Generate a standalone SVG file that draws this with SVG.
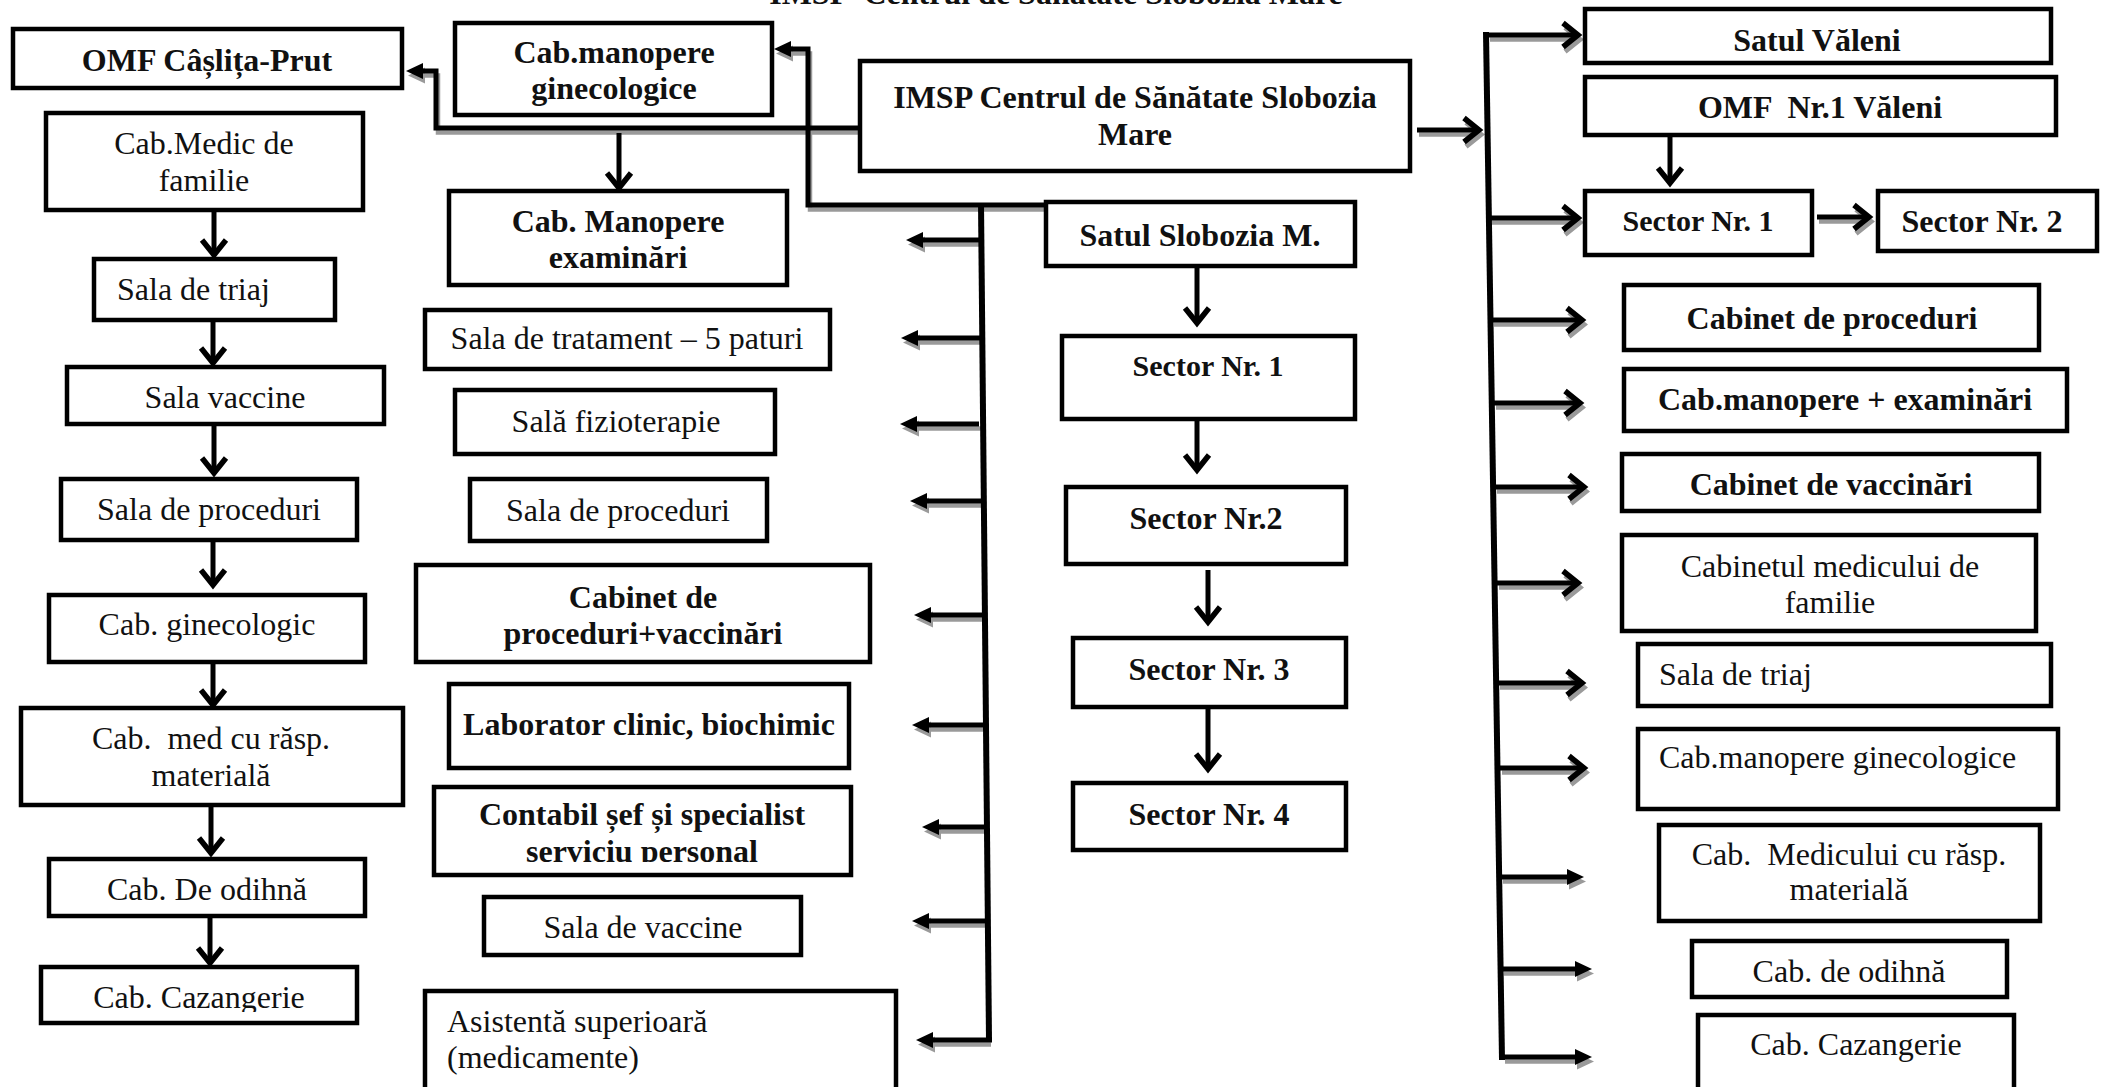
<svg xmlns="http://www.w3.org/2000/svg" width="2107" height="1087" viewBox="0 0 2107 1087">
<style>
.box{fill:#fff;stroke:#000;stroke-width:4.5}
.t{font-family:"Liberation Serif","Times New Roman",serif;font-size:32px;fill:#111;white-space:pre}
.b{font-weight:bold}
.c{text-anchor:middle}
.s28{font-size:30px}
.ln{stroke:#000;stroke-width:5;fill:none}
.sp{stroke:#000;stroke-width:6;fill:none}
.sh{stroke:#9a9a9a;stroke-width:4.5;fill:none}
.fl{marker-end:url(#fh)}
.ch{marker-end:url(#chev)}
.shf{marker-end:url(#fhs)}
.shc{marker-end:url(#chevs)}
</style>
<defs>
<marker id="fh" markerUnits="userSpaceOnUse" markerWidth="20" markerHeight="18" refX="0" refY="8" orient="auto" overflow="visible"><path d="M0,0 L17,8 L0,16 z" fill="#000"/></marker>
<marker id="fhs" markerUnits="userSpaceOnUse" markerWidth="20" markerHeight="18" refX="0" refY="8" orient="auto" overflow="visible"><path d="M0,0 L17,8 L0,16 z" fill="#9a9a9a"/></marker>
<marker id="chev" markerUnits="userSpaceOnUse" markerWidth="22" markerHeight="26" refX="17" refY="12" orient="auto" overflow="visible"><path d="M2,0 L17,12 L2,24" fill="none" stroke="#000" stroke-width="5.5"/></marker>
<marker id="chevs" markerUnits="userSpaceOnUse" markerWidth="22" markerHeight="26" refX="17" refY="12" orient="auto" overflow="visible"><path d="M2,0 L17,12 L2,24" fill="none" stroke="#9a9a9a" stroke-width="5"/></marker>
<clipPath id="clipCont"><rect x="430" y="780" width="430" height="82"/></clipPath>
<clipPath id="clipCaz1"><rect x="38" y="960" width="325" height="52"/></clipPath>
</defs>
<rect width="2107" height="1087" fill="#fff"/>

<text class="t b c" x="1056" y="4">IMSP  Centrul de Sănătate Slobozia Mare</text>

<g id="connectors">
 <g id="shadows" transform="translate(2,4.5)">
  <path class="sh shf" d="M858,128 H436 V71 H423"/>
  <path class="sh shf" d="M1044,205 H808 V49 H791"/>
  <path class="sh shf" d="M981,240 H923"/>
  <path class="sh shf" d="M981,338 H918"/>
  <path class="sh shf" d="M979,424 H917"/>
  <path class="sh shf" d="M982,501 H927"/>
  <path class="sh shf" d="M983,615 H931"/>
  <path class="sh shf" d="M984,725 H929"/>
  <path class="sh shf" d="M986,827 H939"/>
  <path class="sh shf" d="M987,921 H929"/>
  <path class="sh shf" d="M989,1040 H933"/>
  <path class="sh shc" d="M1488,35 H1578"/>
  <path class="sh shc" d="M1417,130 H1479"/>
  <path class="sh shc" d="M1490,218 H1578"/>
  <path class="sh shc" d="M1492,320 H1582"/>
  <path class="sh shc" d="M1494,403 H1580"/>
  <path class="sh shc" d="M1495,487 H1584"/>
  <path class="sh shc" d="M1497,583 H1578"/>
  <path class="sh shc" d="M1498,683 H1582"/>
  <path class="sh shc" d="M1500,768 H1584"/>
  <path class="sh shf" d="M1501,877 H1567"/>
  <path class="sh shf" d="M1502,969 H1575"/>
  <path class="sh shf" d="M1503,1057 H1575"/>
  <path class="sh shc" d="M1817,217 H1869"/>
 </g>
 <path class="ln fl" d="M858,128 H436 V71 H423"/>
 <path class="ln fl" d="M1044,205 H808 V49 H791"/>
 <path class="ln ch" d="M619,133 V188"/>
 <path class="sp" d="M981,203 L989,1040"/>
 <path class="ln fl" d="M981,240 H923"/>
 <path class="ln fl" d="M981,338 H918"/>
 <path class="ln fl" d="M979,424 H917"/>
 <path class="ln fl" d="M982,501 H927"/>
 <path class="ln fl" d="M983,615 H931"/>
 <path class="ln fl" d="M984,725 H929"/>
 <path class="ln fl" d="M986,827 H939"/>
 <path class="ln fl" d="M987,921 H929"/>
 <path class="ln fl" d="M992,1040 H933"/>
 <path class="sp" d="M1486,32 L1502,1060"/>
 <path class="ln ch" d="M1486,35 H1578"/>
 <path class="ln ch" d="M1417,130 H1479"/>
 <path class="ln ch" d="M1489,218 H1578"/>
 <path class="ln ch" d="M1490,320 H1582"/>
 <path class="ln ch" d="M1492,403 H1580"/>
 <path class="ln ch" d="M1493,487 H1584"/>
 <path class="ln ch" d="M1495,583 H1578"/>
 <path class="ln ch" d="M1496,683 H1582"/>
 <path class="ln ch" d="M1497,768 H1584"/>
 <path class="ln fl" d="M1499,877 H1567"/>
 <path class="ln fl" d="M1500,969 H1575"/>
 <path class="ln fl" d="M1499,1057 H1575"/>
 <path class="ln ch" d="M1817,217 H1869"/>
 <path class="ln ch" d="M1670,137 V183"/>
 <path class="ln ch" d="M1197,268 V323"/>
 <path class="ln ch" d="M1197,421 V470"/>
 <path class="ln ch" d="M1208,570 V622"/>
 <path class="ln ch" d="M1208,709 V769"/>
 <path class="ln ch" d="M214,212 V255"/>
 <path class="ln ch" d="M213,322 V363"/>
 <path class="ln ch" d="M214,426 V473"/>
 <path class="ln ch" d="M213,542 V585"/>
 <path class="ln ch" d="M213,664 V705"/>
 <path class="ln ch" d="M211,807 V853"/>
 <path class="ln ch" d="M210,918 V963"/>
</g>

<g id="n-omf-caslita"><rect class="box" x="13" y="29" width="389" height="59"/><text class="t b c" x="207" y="71">OMF Câșlița-Prut</text></g>
<g id="n-cab-manopere-gin"><rect class="box" x="455" y="23" width="317" height="92"/><text class="t b c" x="614" y="63">Cab.manopere</text><text class="t b c" x="614" y="99">ginecologice</text></g>
<g id="n-imsp"><rect class="box" x="860" y="61" width="550" height="110"/><text class="t b c" x="1135" y="108">IMSP Centrul de Sănătate Slobozia</text><text class="t b c" x="1135" y="145">Mare</text></g>
<g id="n-cab-medic"><rect class="box" x="46" y="113" width="317" height="97"/><text class="t c" x="204" y="154">Cab.Medic de</text><text class="t c" x="204" y="191">familie</text></g>
<g id="n-cab-manopere-exam"><rect class="box" x="449" y="191" width="338" height="94"/><text class="t b c" x="618" y="232">Cab. Manopere</text><text class="t b c" x="618" y="268">examinări</text></g>
<g id="n-satul-slobozia"><rect class="box" x="1046" y="202" width="309" height="64"/><text class="t b c" x="1200" y="246">Satul Slobozia M.</text></g>

<g id="n-sala-triaj-1"><rect class="box" x="94" y="259" width="241" height="61"/><text class="t" x="117" y="300">Sala de triaj</text></g>
<g id="n-sala-vaccine-1"><rect class="box" x="67" y="367" width="317" height="57"/><text class="t c" x="225" y="408">Sala vaccine</text></g>
<g id="n-sala-proc-1"><rect class="box" x="61" y="479" width="296" height="61"/><text class="t c" x="209" y="520">Sala de proceduri</text></g>
<g id="n-cab-gin-1"><rect class="box" x="49" y="595" width="316" height="67"/><text class="t c" x="207" y="635">Cab. ginecologic</text></g>
<g id="n-cab-med-rasp-1"><rect class="box" x="21" y="708" width="382" height="97"/><text class="t c" x="211" y="749">Cab.  med cu răsp.</text><text class="t c" x="211" y="786">materială</text></g>
<g id="n-cab-odihna-1"><rect class="box" x="49" y="859" width="316" height="57"/><text class="t c" x="207" y="900">Cab. De odihnă</text></g>
<g id="n-cab-caz-1"><rect class="box" x="41" y="967" width="316" height="56"/><text class="t c" x="199" y="1008" clip-path="url(#clipCaz1)">Cab. Cazangerie</text></g>

<g id="n-sala-tratament"><rect class="box" x="425" y="310" width="405" height="59"/><text class="t c" x="627" y="349">Sala de tratament – 5 paturi</text></g>
<g id="n-sala-fizio"><rect class="box" x="455" y="390" width="320" height="64"/><text class="t c" x="616" y="432">Sală fizioterapie</text></g>
<g id="n-sala-proc-2"><rect class="box" x="470" y="479" width="297" height="62"/><text class="t c" x="618" y="521">Sala de proceduri</text></g>
<g id="n-cab-proc-vacc"><rect class="box" x="416" y="565" width="454" height="97"/><text class="t b c" x="643" y="608">Cabinet de</text><text class="t b c" x="643" y="644">proceduri+vaccinări</text></g>
<g id="n-laborator"><rect class="box" x="449" y="684" width="400" height="84"/><text class="t b c" x="649" y="735">Laborator clinic, biochimic</text></g>
<g id="n-contabil"><rect class="box" x="434" y="787" width="417" height="88"/><text class="t b c" x="642" y="825">Contabil șef și specialist</text><text class="t b c" x="642" y="862" clip-path="url(#clipCont)">serviciu personal</text></g>
<g id="n-sala-vaccine-2"><rect class="box" x="484" y="897" width="317" height="58"/><text class="t c" x="643" y="938">Sala de vaccine</text></g>
<g id="n-asistenta"><rect class="box" x="425" y="991" width="471" height="110"/><text class="t" x="447" y="1032">Asistentă superioară</text><text class="t" x="447" y="1068">(medicamente)</text></g>

<g id="n-sector1-s"><rect class="box" x="1062" y="336" width="293" height="83"/><text class="t b c s28" x="1208" y="376">Sector Nr. 1</text></g>
<g id="n-sector2-s"><rect class="box" x="1066" y="487" width="280" height="77"/><text class="t b c" x="1206" y="529">Sector Nr.2</text></g>
<g id="n-sector3-s"><rect class="box" x="1073" y="638" width="273" height="69"/><text class="t b c" x="1209" y="680">Sector Nr. 3</text></g>
<g id="n-sector4-s"><rect class="box" x="1073" y="783" width="273" height="67"/><text class="t b c" x="1209" y="825">Sector Nr. 4</text></g>

<g id="n-satul-valeni"><rect class="box" x="1585" y="9" width="466" height="54"/><text class="t b c" x="1817" y="51">Satul Văleni</text></g>
<g id="n-omf-valeni"><rect class="box" x="1585" y="77" width="471" height="58"/><text class="t b c" x="1820" y="118">OMF  Nr.1 Văleni</text></g>
<g id="n-sector1-v"><rect class="box" x="1585" y="191" width="227" height="64"/><text class="t b c s28" x="1698" y="231">Sector Nr. 1</text></g>
<g id="n-sector2-v"><rect class="box" x="1878" y="191" width="219" height="60"/><text class="t b c" x="1982" y="232">Sector Nr. 2</text></g>
<g id="n-cab-proc-v"><rect class="box" x="1624" y="285" width="415" height="65"/><text class="t b c" x="1832" y="329">Cabinet de proceduri</text></g>
<g id="n-cab-man-exam-v"><rect class="box" x="1624" y="369" width="443" height="62"/><text class="t b c" x="1845" y="410">Cab.manopere + examinări</text></g>
<g id="n-cab-vacc-v"><rect class="box" x="1622" y="454" width="417" height="57"/><text class="t b c" x="1831" y="495">Cabinet de vaccinări</text></g>
<g id="n-cab-medic-fam-v"><rect class="box" x="1622" y="535" width="414" height="96"/><text class="t c" x="1830" y="577">Cabinetul medicului de</text><text class="t c" x="1830" y="613">familie</text></g>
<g id="n-sala-triaj-v"><rect class="box" x="1638" y="644" width="413" height="62"/><text class="t" x="1659" y="685">Sala de triaj</text></g>
<g id="n-cab-man-gin-v"><rect class="box" x="1638" y="729" width="420" height="80"/><text class="t" x="1659" y="768">Cab.manopere ginecologice</text></g>
<g id="n-cab-med-rasp-v"><rect class="box" x="1659" y="825" width="381" height="96"/><text class="t c" x="1849" y="865">Cab.  Medicului cu răsp.</text><text class="t c" x="1849" y="900">materială</text></g>
<g id="n-cab-odihna-v"><rect class="box" x="1692" y="941" width="315" height="56"/><text class="t c" x="1849" y="982">Cab. de odihnă</text></g>
<g id="n-cab-caz-v"><rect class="box" x="1698" y="1015" width="316" height="90"/><text class="t c" x="1856" y="1055">Cab. Cazangerie</text></g>
</svg>
